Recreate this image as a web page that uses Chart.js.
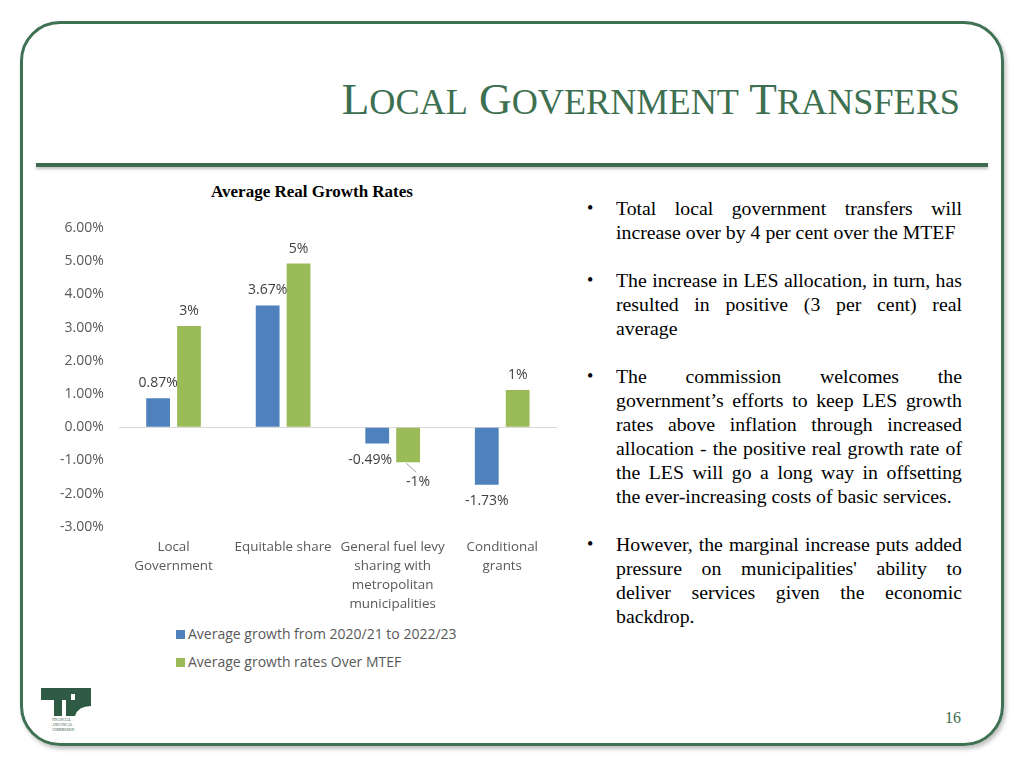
<!DOCTYPE html>
<html>
<head>
<meta charset="utf-8">
<script src="https://cdn.jsdelivr.net/npm/chart.js@4"></script>
<style>
  body { margin: 0; width: 1024px; height: 768px; background: #fff; position: relative; overflow: hidden; font-family: "Liberation Serif", serif; }
  .frame { position: absolute; left: 20px; top: 21px; width: 978px; height: 719px; border: 3px solid #3f7153; border-radius: 40px; box-shadow: 2px 3px 4px rgba(0,0,0,0.25); }
  .title { position: absolute; right: 64px; top: 71px; color: #3d7050; font-size: 45.2px; line-height: 56px; white-space: nowrap; }
  .title .sc { font-size: 36.2px; }
  .rule { position: absolute; left: 36px; top: 163px; width: 952px; height: 4px; background: #3f6b4f; box-shadow: 0 2px 3px rgba(0,0,0,0.25); }
  .ctitle { position: absolute; left: 162px; width: 300px; top: 181px; text-align: center; font-weight: bold; font-size: 17px; line-height: 22px; color: #000; }
  #wrap { position: absolute; left: 40px; top: 177px; width: 545px; height: 440px; }
  .legend { position: absolute; left: 176px; top: 623px; font-family: "Open Sans", sans-serif; font-size: 14px; color: #595959; }
  .legend div { height: 28px; line-height: 22px; }
  .legend span.box { display: inline-block; width: 9px; height: 9px; margin-right: 3px; vertical-align: 0px; }
  .text { position: absolute; left: 587px; top: 196px; width: 375px; font-size: 19.8px; line-height: 24px; color: #000; }
  .text p { margin: 0 0 24px 0; padding-left: 29px; position: relative; }
  .text p:before { content: "\2022"; position: absolute; left: 0; font-size: 18px; }
  .text span { display: block; white-space: nowrap; text-align: justify; text-align-last: justify; }
  .text span.end { text-align-last: left; }
  .pnum { position: absolute; left: 945px; top: 709px; font-size: 16px; color: #3e6b50; }
  .logo { position: absolute; left: 40px; top: 686px; }
</style>
</head>
<body>
<div class="frame"></div>
<div class="title">L<span class="sc">OCAL</span> G<span class="sc">OVERNMENT</span> T<span class="sc">RANSFERS</span></div>
<div class="rule"></div>
<div class="ctitle">Average Real Growth Rates</div>
<div id="wrap"><canvas id="chart"></canvas></div>
<div class="legend" id="legend"></div>
<div class="text">
  <p><span>Total local government transfers will</span><span class="end">increase over by 4 per cent over the MTEF</span></p>
  <p><span>The increase in LES allocation, in turn, has</span><span>resulted in positive (3 per cent) real</span><span class="end">average</span></p>
  <p><span>The commission welcomes the</span><span>government’s efforts to keep LES growth</span><span>rates above inflation through increased</span><span>allocation - the positive real growth rate of</span><span>the LES will go a long way in offsetting</span><span class="end">the ever-increasing costs of basic services.</span></p>
  <p><span>However, the marginal increase puts added</span><span>pressure on municipalities' ability to</span><span>deliver services given the economic</span><span class="end">backdrop.</span></p>
</div>
<svg class="logo" width="54" height="50" viewBox="0 0 54 50">
  <rect x="1" y="2" width="50" height="6" fill="#2f5a44"/>
  <rect x="1" y="8" width="30" height="6" fill="#2f5a44"/>
  <rect x="35" y="8" width="16" height="6" fill="#2f5a44"/>
  <rect x="14" y="14" width="8" height="16" fill="#2f5a44"/>
  <path d="M26 14 L51 14 L51 20 Q38 20 35 30 L26 30 Z" fill="#2f5a44"/>
  <text x="12" y="35" font-size="3.5" fill="#2f5a44" font-family="Liberation Serif">FINANCIAL</text>
  <text x="12" y="40" font-size="3.5" fill="#2f5a44" font-family="Liberation Serif">AND FISCAL</text>
  <text x="12" y="45" font-size="3.5" fill="#2f5a44" font-family="Liberation Serif">COMMISSION</text>
</svg>
<div class="pnum">16</div>

<script>
const categories = [
  ["Local", "Government"],
  "Equitable share",
  ["General fuel levy", "sharing with", "metropolitan", "municipalities"],
  ["Conditional", "grants"]
];
const seriesNames = ["Average growth from 2020/21 to 2022/23", "Average growth rates Over MTEF"];
const pastGrowth = [0.87, 3.67, -0.49, -1.73];
const mtefGrowth = [3.05, 4.93, -1.05, 1.12];
const pastLabels = ["0.87%", "3.67%", "-0.49%", "-1.73%"];
const mtefLabels = ["3%", "5%", "-1%", "1%"];
const yTicks = [-3, -2, -1, 0, 1, 2, 3, 4, 5, 6];
const colors = ["#4f81bd", "#9bbb59"];

const dataLabels = {
  id: "dataLabels",
  afterDatasetsDraw(chart) {
    const ctx = chart.ctx;
    const lists = [pastLabels, mtefLabels];
    ctx.save();
    ctx.font = "14px 'Open Sans', sans-serif";
    ctx.fillStyle = "#404040";
    ctx.textAlign = "center";
    ctx.textBaseline = "middle";
    chart.data.datasets.forEach((ds, i) => {
      const meta = chart.getDatasetMeta(i);
      meta.data.forEach((bar, j) => {
        const v = ds.data[j];
        let x = bar.x;
        let y = v >= 0 ? bar.y - 15 : bar.y + 16;
        if (i === 1 && v < 0) {
          // label pushed aside, with a short leader line like the original
          x += 10; y += 4;
          ctx.strokeStyle = "#a6a6a6";
          ctx.lineWidth = 1;
          ctx.beginPath();
          ctx.moveTo(bar.x - 2, bar.y + 1);
          ctx.lineTo(x - 2, y - 10);
          ctx.stroke();
        }
        if (i === 0 && v < 0 && v > -1) x -= 7;
        ctx.fillText(lists[i][j], x, y);
      });
    });
    ctx.restore();
  }
};

const chart = new Chart(document.getElementById("chart").getContext("2d"), {
  type: "bar",
  data: {
    labels: categories,
    datasets: [
      { label: seriesNames[0], data: pastGrowth, backgroundColor: colors[0] },
      { label: seriesNames[1], data: mtefGrowth, backgroundColor: colors[1] }
    ]
  },
  options: {
    responsive: true,
    maintainAspectRatio: false,
    animation: false,
    categoryPercentage: 0.564,
    barPercentage: 0.77,
    layout: { padding: { left: 5, right: 28, top: 51, bottom: 0 } },
    plugins: {
      legend: { display: false },
      tooltip: { enabled: false },
      title: { display: false }
    },
    scales: {
      y: {
        min: -3,
        max: 6,
        afterBuildTicks: (axis) => { axis.ticks = yTicks.map(v => ({ value: v })); },
        ticks: {
          color: "#595959",
          font: { family: "'Open Sans', sans-serif", size: 14 },
          padding: 15,
          callback: (v) => v.toFixed(2) + "%"
        },
        grid: {
          drawTicks: false,
          color: (c) => c.tick && c.tick.value === 0 ? "#d9d9d9" : "rgba(0,0,0,0)"
        },
        border: { display: false }
      },
      x: {
        ticks: {
          color: "#595959",
          font: { family: "'Open Sans', sans-serif", size: 13.4, lineHeight: 1.42 },
          padding: 3,
          maxRotation: 0,
          autoSkip: false
        },
        grid: { display: false },
        border: { display: false }
      }
    }
  },
  plugins: [dataLabels]
});

document.getElementById("legend").innerHTML = chart.data.datasets.map(ds =>
  '<div><span class="box" style="background:' + ds.backgroundColor + '"></span>' + ds.label + '</div>'
).join("");
</script>
</body>
</html>
